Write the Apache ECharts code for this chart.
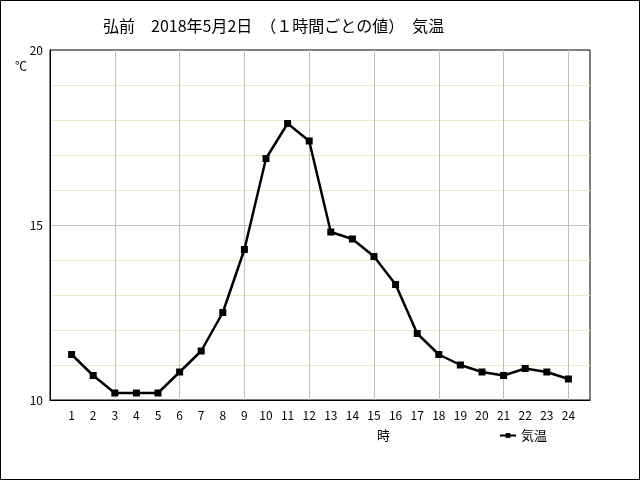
<!DOCTYPE html>
<html>
<head>
<meta charset="utf-8">
<script src="https://cdn.jsdelivr.net/npm/echarts@6/dist/echarts.min.js"></script>
<style>
  html, body { margin: 0; padding: 0; background: #fff; }
  #chart { width: 640px; height: 480px; }
</style>
</head>
<body>
<div id="chart"></div>
<script>
// 弘前 2018/5/2 の1時間ごとの気温
const hours = [1, 2, 3, 4, 5, 6, 7, 8, 9, 10, 11, 12, 13, 14, 15, 16, 17, 18, 19, 20, 21, 22, 23, 24]
const temps = [11.3, 10.7, 10.2, 10.2, 10.2, 10.8, 11.4, 12.5, 14.3, 16.9, 17.9, 17.4,
    14.8, 14.6, 14.1, 13.3, 11.9, 11.3, 11.0, 10.8, 10.7, 10.9, 10.8, 10.6]
const yTicks = [10, 15, 20]

const font = '"Noto Sans CJK JP", sans-serif'
const chart = echarts.init(document.getElementById('chart'))

const options = {
    backgroundColor: '#fff',
    animation: false,
    title: [
        {
            text: '弘前　2018年5月2日　（１時間ごとの値）　気温',
            left: 98,
            top: 13,
            textStyle: { color: '#000', fontSize: 16, fontWeight: 'normal', fontFamily: font }
        },
        {
            text: '℃',
            left: 10,
            top: 55,
            textStyle: { color: '#000', fontSize: 12, fontWeight: 'normal', fontFamily: font }
        },
        {
            text: '時',
            left: 372,
            top: 424,
            textStyle: { color: '#000', fontSize: 13, fontWeight: 'normal', fontFamily: font }
        }
    ],
    legend: {
        left: 494,
        top: 424,
        itemWidth: 16,
        itemHeight: 6,
        itemGap: 4,
        textStyle: { color: '#000', fontSize: 13, fontFamily: font },
        data: ['気温']
    },
    grid: {
        left: 50,
        right: 50,
        top: 50,
        bottom: 80,
        show: true,
        borderColor: '#000',
        borderWidth: 1
    },
    xAxis: {
        type: 'value',
        min: 0,
        max: 25,
        interval: 1,
        axisLine: { lineStyle: { color: '#000', width: 1 } },
        axisTick: { show: false },
        axisLabel: {
            color: '#000',
            fontSize: 12,
            fontFamily: font,
            margin: 9,
            formatter: v => hours.includes(v) ? String(v) : ''
        },
        splitLine: {
            show: true,
            showMinLine: false,
            showMaxLine: false,
            // colour index starts at hour 1: grey every third hour
            lineStyle: { color: ['rgba(0,0,0,0)', 'rgba(0,0,0,0)', '#c0c0c0'], width: 1 }
        }
    },
    yAxis: [
        {
            // pale minor lines every 1℃
            type: 'value',
            min: 10,
            max: 20,
            interval: 1,
            z: 0,
            position: 'left',
            axisLine: { show: false },
            axisTick: { show: false },
            axisLabel: { show: false },
            splitLine: {
                show: true,
                showMinLine: false,
                showMaxLine: false,
                lineStyle: { color: '#efe6cc', width: 1 }
            }
        },
        {
            type: 'value',
            min: 10,
            max: 20,
            interval: 5,
            z: 1,
            position: 'left',
            axisLine: { show: true, lineStyle: { color: '#000', width: 1 } },
            axisTick: { show: false },
            axisLabel: {
                color: '#000',
                fontSize: 12,
                fontFamily: font,
                margin: 7,
                formatter: v => yTicks.includes(v) ? String(v) : ''
            },
            splitLine: {
                show: true,
                showMinLine: false,
                showMaxLine: false,
                lineStyle: { color: '#c0c0c0', width: 1 }
            }
        }
    ],
    series: [
        {
            name: '気温',
            type: 'line',
            yAxisIndex: 1,
            z: 3,
            data: hours.map((h, i) => [h, temps[i]]),
            symbol: 'rect',
            symbolSize: 7,
            lineStyle: { color: '#000', width: 2.5 },
            itemStyle: { color: '#000' }
        }
    ],
    graphic: [
        {
            type: 'rect',
            shape: { x: 0.5, y: 0.5, width: 639, height: 479 },
            style: { fill: 'none', stroke: '#000', lineWidth: 1 },
            z: 100
        }
    ]
}

chart.setOption(options)
</script>
</body>
</html>
